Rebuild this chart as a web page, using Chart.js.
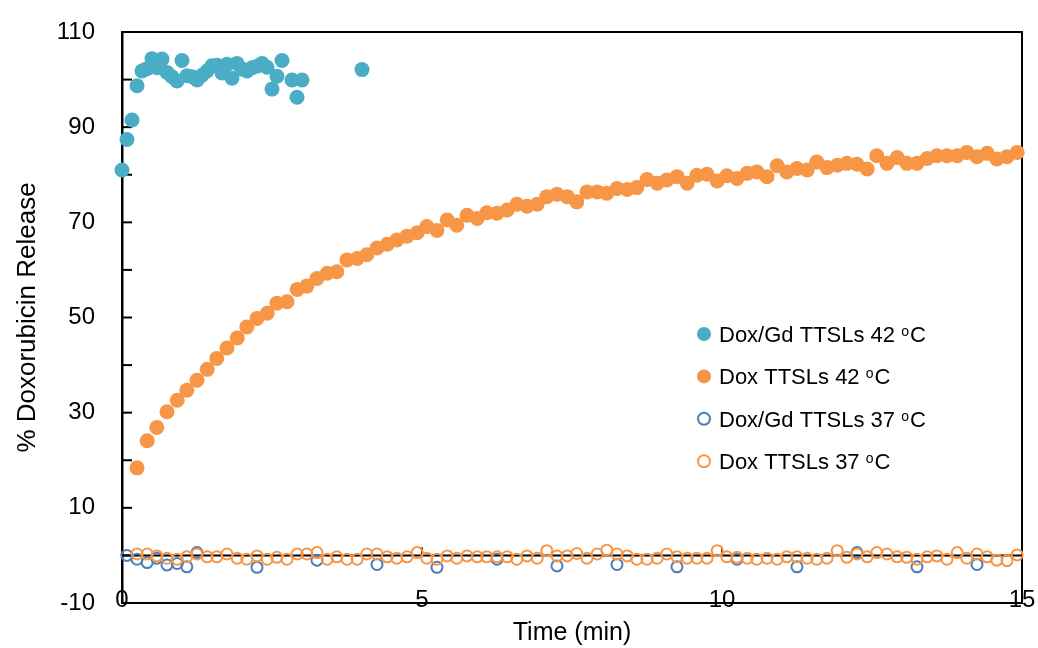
<!DOCTYPE html>
<html>
<head>
<meta charset="utf-8">
<title>Doxorubicin release</title>
<script src="https://cdn.jsdelivr.net/npm/chart.js@4.4.1/dist/chart.umd.min.js"></script>
<style>
  html, body { margin: 0; padding: 0; background: #ffffff; }
  #wrap { width: 1038px; height: 648px; }
</style>
</head>
<body>
<div id="wrap"><canvas id="chart" width="1038" height="648"></canvas></div>
<script>
// Series labels (the "oC" unit is drawn with a raised small "o")
const seriesLabels = ['Dox/Gd TTSLs 42', 'Dox TTSLs 42', 'Dox/Gd TTSLs 37', 'Dox TTSLs 37'];

// Dox/Gd TTSLs at 42 °C — sampled every 5 s (time in min)
const timeDoxGd42 = [0, 0.083, 0.167, 0.25, 0.333, 0.417, 0.5, 0.583, 0.667, 0.75, 0.833, 0.917,
  1, 1.083, 1.167, 1.25, 1.333, 1.417, 1.5, 1.583, 1.667, 1.75, 1.833, 1.917,
  2, 2.083, 2.167, 2.25, 2.333, 2.417, 2.5, 2.583, 2.667, 2.833, 2.917, 3, 4];
const releaseDoxGd42 = [81.0, 87.4, 91.5, 98.7, 101.8, 102.3, 104.4, 102.5, 104.3, 101.5, 100.6, 99.7,
  104.0, 100.8, 100.6, 99.9, 100.9, 101.8, 102.9, 103.0, 101.4, 103.2, 100.3, 103.4,
  102.2, 101.8, 102.5, 102.8, 103.4, 102.6, 98.0, 100.7, 104.0, 99.9, 96.3, 99.9, 102.1];

// Dox TTSLs (both temperatures) — sampled every 10 s (time in min)
const timeDox = [0.25, 0.42, 0.58, 0.75, 0.92, 1.08, 1.25, 1.42, 1.58, 1.75, 1.92,
  2.08, 2.25, 2.42, 2.58, 2.75, 2.92, 3.08, 3.25, 3.42, 3.58, 3.75, 3.92,
  4.08, 4.25, 4.42, 4.58, 4.75, 4.92, 5.08, 5.25, 5.42, 5.58, 5.75, 5.92,
  6.08, 6.25, 6.42, 6.58, 6.75, 6.92, 7.08, 7.25, 7.42, 7.58, 7.75, 7.92,
  8.08, 8.25, 8.42, 8.58, 8.75, 8.92, 9.08, 9.25, 9.42, 9.58, 9.75, 9.92,
  10.08, 10.25, 10.42, 10.58, 10.75, 10.92, 11.08, 11.25, 11.42, 11.58, 11.75, 11.92,
  12.08, 12.25, 12.42, 12.58, 12.75, 12.92, 13.08, 13.25, 13.42, 13.58, 13.75, 13.92,
  14.08, 14.25, 14.42, 14.58, 14.75, 14.92];
const releaseDox42 = [18.4, 24.1, 26.9, 30.2, 32.6, 34.7, 36.8, 39.1, 41.4, 43.6, 45.7,
  48.0, 49.8, 50.9, 53.0, 53.3, 55.9, 56.6, 58.2, 59.3, 59.6, 62.1, 62.4,
  63.2, 64.6, 65.4, 66.3, 67.1, 67.8, 69.1, 68.3, 70.5, 69.4, 71.5, 70.8,
  72.0, 71.9, 72.6, 73.8, 73.4, 73.8, 75.4, 75.9, 75.4, 74.3, 76.4, 76.4,
  76.1, 77.1, 76.9, 77.3, 79.0, 78.2, 78.9, 79.6, 78.2, 79.9, 80.1, 78.7,
  79.8, 79.2, 80.3, 80.6, 79.6, 81.9, 80.6, 81.3, 81.0, 82.7, 81.5, 82.0,
  82.4, 82.2, 81.2, 84.0, 82.4, 83.6, 82.4, 82.4, 83.4, 84.0, 84.0, 84.0,
  84.7, 83.8, 84.5, 83.3, 83.8, 84.7];
const releaseDox37 = [0.3, 0.3, -0.1, -0.6, -0.8, -0.3, 0.3, -0.3, -0.3, 0.3, -0.6,
  -0.8, -0.1, -0.8, -0.4, -0.8, 0.3, 0.3, 0.6, -0.8, -0.3, -0.8, -0.8,
  0.3, 0.3, -0.3, -0.6, -0.3, 0.6, -0.6, -0.8, -0.1, -0.6, -0.1, -0.3,
  -0.3, -0.3, -0.3, -0.8, -0.1, -0.6, 1.0, -0.1, -0.1, 0.4, -0.6, 0.3,
  1.1, 0.3, -0.1, -0.8, -0.8, -0.6, 0.3, -0.3, -0.6, -0.6, -0.6, 1.0,
  -0.3, -0.4, -0.6, -0.8, -0.6, -0.8, -0.3, -0.3, -0.6, -0.8, -0.6, 1.0,
  -0.4, 0.3, -0.3, 0.6, 0.3, -0.3, -0.4, -0.8, -0.3, -0.1, -0.8, 0.6,
  -0.6, 0.3, -0.3, -1.0, -1.1, 0.1];

// Dox/Gd TTSLs at 37 °C
const timeDoxGd37 = [0.08, 0.25, 0.42, 0.58, 0.75, 0.92, 1.08, 1.25,
  2.25, 3.25, 4.25, 5.25, 6.25, 7.25, 8.25, 9.25, 10.25, 11.25, 12.25, 13.25, 14.25];
const releaseDoxGd37 = [0.0, -0.8, -1.5, -0.6, -2.0, -1.7, -2.4, 0.6,
  -2.5, -1.0, -1.9, -2.5, -0.8, -2.2, -1.9, -2.4, -0.8, -2.4, 0.6, -2.4, -1.9];

// Axis ranges and labelled tick values
const xRange = [0, 15];
const xTickLabels = [0, 5, 10, 15];
const yRange = [-10, 110];
const yTickLabels = [-10, 10, 30, 50, 70, 90, 110];

const FONT = "'Liberation Sans', Arial, sans-serif";
const COLORS = ['#4BACC6', '#F79646', '#4A7EBB', '#F79646'];

function pairs(xs, ys) {
  return xs.map((x, i) => ({ x: x, y: ys[i] }));
}

// Plot frame, zero line with inward ticks, and the in-plot legend
const framePlugin = {
  id: 'frame',
  beforeDatasetsDraw(chart) {
    const { ctx, chartArea: a, scales: { x, y } } = chart;
    ctx.save();
    ctx.strokeStyle = '#000';
    ctx.lineCap = 'butt';
    // top and right border of the plot box
    ctx.lineWidth = 2;
    ctx.beginPath();
    ctx.moveTo(a.left, a.top);
    ctx.lineTo(a.right, a.top);
    ctx.lineTo(a.right, a.bottom);
    ctx.stroke();
    // horizontal axis through zero
    const y0 = y.getPixelForValue(0);
    ctx.beginPath();
    ctx.moveTo(a.left, y0);
    ctx.lineTo(a.right, y0);
    ctx.stroke();
    // inward tick marks on the zero axis
    x.ticks.forEach(t => {
      const px = x.getPixelForValue(t.value);
      ctx.beginPath();
      ctx.moveTo(px, y0);
      ctx.lineTo(px, y0 - 8);
      ctx.stroke();
    });
    // inward tick marks on the vertical axis
    y.ticks.forEach(t => {
      const py = y.getPixelForValue(t.value);
      ctx.beginPath();
      ctx.moveTo(a.left, py);
      ctx.lineTo(a.left + 10, py);
      ctx.stroke();
    });
    ctx.restore();
  },
  afterDraw(chart) {
    const { ctx } = chart;
    const mx = 704, tx = 719, y0 = 334, dy = 42.4;
    ctx.save();
    chart.data.datasets.forEach((ds, i) => {
      const cy = y0 + i * dy;
      ctx.beginPath();
      if (ds.filled) {
        ctx.arc(mx, cy, 7, 0, Math.PI * 2);
        ctx.fillStyle = ds.backgroundColor;
        ctx.fill();
      } else {
        ctx.arc(mx, cy, 6, 0, Math.PI * 2);
        ctx.lineWidth = 2;
        ctx.strokeStyle = ds.borderColor;
        ctx.stroke();
      }
      ctx.fillStyle = '#000';
      ctx.textBaseline = 'alphabetic';
      ctx.textAlign = 'left';
      ctx.font = '22px ' + FONT;
      const base = ds.label + ' ';
      const baseline = cy + 8;
      ctx.fillText(base, tx, baseline);
      let cx = tx + ctx.measureText(base).width;
      ctx.font = '14px ' + FONT;
      ctx.fillText('o', cx, baseline - 6);
      cx += ctx.measureText('o').width + 1;
      ctx.font = '22px ' + FONT;
      ctx.fillText('C', cx, baseline);
    });
    ctx.restore();
  }
};

new Chart(document.getElementById('chart'), {
  type: 'scatter',
  data: {
    datasets: [
      {
        label: seriesLabels[0], filled: true,
        data: pairs(timeDoxGd42, releaseDoxGd42),
        backgroundColor: COLORS[0], borderColor: COLORS[0],
        pointRadius: 7.5, borderWidth: 0, order: 3, clip: false
      },
      {
        label: seriesLabels[1], filled: true,
        data: pairs(timeDox, releaseDox42),
        backgroundColor: COLORS[1], borderColor: COLORS[1],
        pointRadius: 7.5, borderWidth: 0, order: 2, clip: false
      },
      {
        label: seriesLabels[2], filled: false,
        data: pairs(timeDoxGd37, releaseDoxGd37),
        backgroundColor: 'rgba(0,0,0,0)', borderColor: COLORS[2],
        pointRadius: 5.5, borderWidth: 2, order: 1, clip: false
      },
      {
        label: seriesLabels[3], filled: false,
        data: pairs(timeDox, releaseDox37),
        backgroundColor: 'rgba(0,0,0,0)', borderColor: COLORS[3],
        pointRadius: 5.5, borderWidth: 2, order: 0, clip: false
      }
    ]
  },
  options: {
    responsive: false,
    animation: false,
    events: [],
    layout: { padding: { left: 0, right: 16, top: 32, bottom: 0 } },
    plugins: { legend: { display: false }, tooltip: { enabled: false } },
    scales: {
      x: {
        type: 'linear',
        min: xRange[0], max: xRange[1],
        afterFit(s) { s.height = 45; s.paddingLeft = 0; s.paddingRight = 0; },
        afterBuildTicks(s) { s.ticks = xTickLabels.map(v => ({ value: v })); },
        grid: { display: false, drawTicks: false },
        border: { display: true, color: '#000', width: 2 },
        ticks: {
          color: '#000', mirror: true, padding: -12, maxRotation: 0, autoSkip: false,
          font: { family: FONT, size: 24 }
        },
        title: {
          display: true, text: 'Time (min)', color: '#000',
          font: { family: FONT, size: 25 }, padding: { top: 0, bottom: 0 }
        }
      },
      y: {
        type: 'linear',
        min: yRange[0], max: yRange[1],
        afterFit(s) { s.width = 122; s.paddingTop = 14; s.paddingBottom = 14; },
        afterBuildTicks(s) {
          const ticks = [];
          for (let v = yRange[0]; v <= yRange[1]; v += 10) ticks.push({ value: v });
          s.ticks = ticks;
        },
        grid: { display: false, drawTicks: false },
        border: { display: true, color: '#000', width: 2.5 },
        ticks: {
          color: '#000', padding: 27, autoSkip: false,
          font: { family: FONT, size: 24 },
          callback: v => (yTickLabels.includes(v) ? String(v) : '')
        },
        title: {
          display: true, text: '% Doxorubicin Release', color: '#000',
          font: { family: FONT, size: 26 }, padding: { top: 12, bottom: 0 }
        }
      }
    }
  },
  plugins: [framePlugin]
});
</script>
</body>
</html>
